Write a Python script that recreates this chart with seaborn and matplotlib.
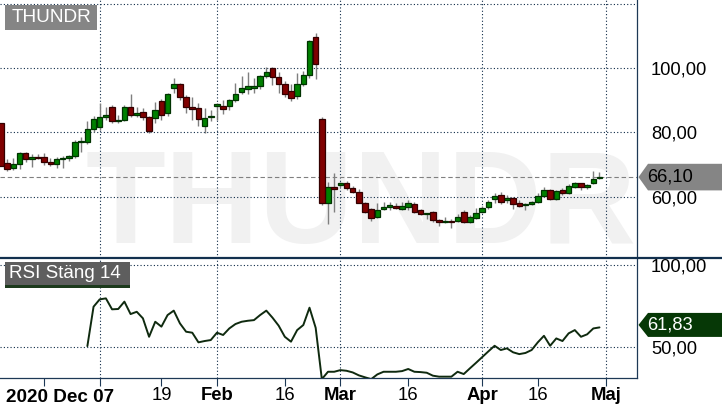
import numpy as np
import pandas as pd
import matplotlib
matplotlib.use("Agg")
import matplotlib.pyplot as plt
import seaborn as sns
from matplotlib.patches import Rectangle, Polygon
from matplotlib.transforms import IdentityTransform
from matplotlib.lines import Line2D

# ---------------- data ----------------
opens = [82.9, 70.6, 68.8, 70.2, 73.7, 71.6, 72.5, 72.3, 70.9, 70.1,
         71.8, 72.2, 72.8, 76.9, 76.9, 81.0, 81.8, 84.9, 87.9, 83.5,
         83.9, 88.0, 85.5, 86.3, 84.7, 84.4, 89.9, 86.0, 93.8, 95.1,
         91.0, 87.9, 87.5, 82.0, 84.7, 88.2, 88.2, 88.2, 90.1, 92.7,
         93.5, 93.8, 94.6, 97.6, 100.0, 97.4, 95.1, 93.0, 91.3, 95.0,
         97.8, 109.7, 84.1, 57.9, 62.9, 63.7, 64.2, 62.6, 61.6, 57.9,
         56.1, 53.6, 56.1, 56.9, 57.0, 56.2, 56.9, 57.6, 55.9, 54.5,
         55.2, 52.8, 52.2, 52.5, 52.3, 55.2, 52.0, 53.3, 55.1, 56.9,
         59.2, 60.5, 59.0, 59.5, 57.9, 57.3, 57.7, 58.5, 60.2, 62.1,
         59.2, 62.1, 61.1, 63.1, 64.2, 63.1, 64.4, 65.8]
highs = [83.0, 71.6, 72.0, 74.0, 73.9, 73.2, 73.2, 73.5, 71.9, 72.5,
         72.6, 73.0, 77.5, 78.5, 83.5, 85.0, 89.1, 88.0, 88.5, 85.5,
         88.5, 92.0, 88.0, 87.7, 85.0, 89.6, 90.5, 92.3, 96.9, 95.5,
         91.6, 91.0, 89.2, 87.5, 86.9, 89.3, 90.1, 90.5, 95.4, 97.6,
         98.9, 96.9, 97.8, 100.3, 100.3, 98.7, 96.0, 95.0, 98.6, 99.1,
         108.7, 110.9, 84.8, 64.7, 67.3, 64.6, 65.0, 63.3, 62.5, 58.3,
         56.5, 58.0, 58.4, 58.5, 58.0, 58.3, 59.1, 58.3, 56.2, 55.0,
         55.5, 53.2, 53.8, 53.0, 54.5, 56.0, 54.2, 56.4, 57.0, 59.0,
         61.0, 61.6, 60.5, 60.0, 58.9, 58.0, 58.8, 61.0, 62.9, 62.4,
         62.0, 62.6, 64.0, 64.5, 64.4, 63.8, 68.0, 67.8]
lows = [69.5, 68.1, 68.2, 68.6, 70.9, 69.3, 71.7, 69.9, 69.6, 68.9,
        69.0, 71.0, 72.0, 74.0, 76.5, 80.0, 80.8, 84.0, 82.8, 83.0,
        83.5, 84.9, 84.8, 83.8, 79.7, 83.0, 84.0, 85.0, 92.2, 90.0,
        86.1, 84.0, 82.0, 79.8, 83.6, 84.0, 85.6, 87.0, 89.5, 92.0,
        92.0, 92.2, 93.6, 97.0, 94.8, 92.2, 91.0, 89.9, 90.3, 94.5,
        97.0, 96.6, 57.4, 51.4, 55.1, 63.0, 62.0, 61.0, 58.0, 55.0,
        52.5, 53.3, 55.7, 56.0, 56.2, 55.8, 56.0, 55.0, 54.2, 53.0,
        52.0, 50.8, 51.8, 50.1, 52.0, 51.8, 51.8, 53.0, 54.8, 56.3,
        58.0, 57.6, 58.0, 56.3, 56.8, 56.0, 57.3, 58.0, 59.8, 58.9,
        58.9, 60.5, 60.8, 62.8, 62.0, 62.3, 64.0, 65.5]
closes = [69.6, 68.5, 70.2, 73.7, 71.6, 72.5, 72.0, 70.7, 70.1, 71.8,
          72.2, 72.7, 76.9, 77.2, 81.0, 84.1, 84.7, 85.3, 83.5, 83.8,
          87.9, 85.5, 86.0, 84.7, 80.6, 87.0, 85.5, 92.0, 95.1, 91.0,
          87.9, 87.4, 84.1, 84.4, 85.1, 88.9, 87.4, 90.1, 92.0, 93.8,
          94.4, 94.5, 97.6, 98.8, 97.4, 95.1, 91.9, 90.7, 95.2, 97.8,
          108.5, 101.2, 57.9, 63.1, 62.3, 64.2, 62.6, 61.6, 58.1, 55.3,
          53.3, 55.9, 56.7, 57.4, 56.4, 57.0, 57.9, 55.3, 54.5, 54.8,
          52.8, 52.2, 52.5, 52.0, 53.6, 52.1, 53.6, 55.0, 56.4, 58.3,
          60.2, 58.4, 59.5, 57.7, 57.2, 57.7, 58.3, 60.2, 62.1, 59.4,
          61.8, 61.1, 63.3, 64.2, 62.9, 63.6, 65.4, 66.1]

rsi_start = 14
rsi_values = [50.4, 74.5, 79.0, 79.6, 72.9, 73.1, 77.6, 70.0, 71.4, 67.4,
              56.1, 65.3, 62.3, 69.4, 72.1, 64.3, 59.2, 58.6, 52.7, 53.5,
              54.1, 58.6, 57.2, 61.2, 63.9, 65.3, 65.9, 66.3, 69.4, 72.1,
              67.8, 62.9, 56.1, 53.1, 60.2, 63.3, 73.9, 61.6, 30.2, 34.7,
              34.7, 35.7, 35.3, 34.3, 32.5, 31.3, 30.2, 33.1, 34.7, 34.7,
              34.7, 35.1, 36.4, 34.7, 34.5, 34.1, 32.3, 31.7, 31.7, 31.7,
              34.7, 33.3, 36.8, 40.2, 43.7, 47.2, 50.6, 48.0, 49.0, 46.6,
              45.5, 46.2, 48.0, 52.7, 56.7, 50.6, 55.1, 53.5, 58.2, 60.2,
              56.1, 57.6, 61.2, 61.83]

tick_positions = [7, 16, 26, 35, 46, 55, 66, 78, 87, 98]
tick_labels = ["", "", "19", "Feb", "16", "Mar", "16", "Apr", "16", "Maj"]
bold_labels = ["Feb", "Mar", "Apr", "Maj"]
first_label = "2020 Dec 07"
month_lines = [16, 35, 55, 78, 98]
price_ticks = [60, 80, 100, 120]
price_tick_labels = ["60,00", "80,00", "100,00", ""]
rsi_ticks = [50, 100]
rsi_tick_labels = ["50,00", "100,00"]
title_price = "THUNDR"
title_rsi = "RSI Stäng 14"
last_close_label = "66,10"
last_rsi_label = "61,83"

# ---------------- style ----------------
sns.set_style("white")
plt.rcParams["font.family"] = ["Liberation Sans", "DejaVu Sans"]

W, H = 722, 411
fig = plt.figure(figsize=(W / 100, H / 100), dpi=100)
fig.patch.set_facecolor("white")

NAVY = "#1d3856"
GRID = "#0e2a47"
x_left, x_right = -0.162, 103.08

ax1 = fig.add_axes([0, 1 - 257.7 / H, 637 / W, 257.7 / H])
ax2 = fig.add_axes([0, 1 - 378.3 / H, 637 / W, (378.3 - 258.0) / H])

df = pd.DataFrame({"open": opens, "high": highs, "low": lows, "close": closes})
df["idx"] = np.arange(len(df))
up = df["close"] >= df["open"]

# wicks
ax1.vlines(df["idx"], df["low"], df["high"], color="#7f7f7f", lw=1.0, zorder=2)
# bodies
bottom = np.minimum(df["open"], df["close"])
height = np.maximum(np.abs(df["close"] - df["open"]), 0.35)
ax1.bar(df["idx"][up], height[up], bottom=bottom[up], width=0.9,
        color="#008000", edgecolor="#003300", linewidth=0.9, zorder=3)
ax1.bar(df["idx"][~up], height[~up], bottom=bottom[~up], width=0.9,
        color="#800000", edgecolor="#330000", linewidth=0.9, zorder=3)

ax1.set_xlim(x_left, x_right)
ax1.set_ylim(41.0, 121.25)

# RSI
rsi_df = pd.DataFrame({"idx": np.arange(rsi_start, rsi_start + len(rsi_values)),
                       "rsi": rsi_values})
sns.lineplot(data=rsi_df, x="idx", y="rsi", ax=ax2, color="#0f2a0f", lw=1.4,
             zorder=3)
ax2.set_xlim(x_left, x_right)
ax2.set_ylim(30.7, 104.3)
ax2.set_xlabel("")
ax2.set_ylabel("")

dotted = (0, (1, 2))
for ax, yt in ((ax1, price_ticks), (ax2, rsi_ticks)):
    for v in yt:
        ax.axhline(v, color=GRID, lw=0.8, ls=dotted, zorder=1)
    for m in month_lines:
        ax.axvline(m, color=GRID, lw=0.8, ls=dotted, zorder=1)

# last close dashed line
ax1.axhline(closes[-1], color="#808080", lw=0.8, ls=(0, (4, 2.5)), zorder=2)

# spines
for ax in (ax1, ax2):
    for s in ("left", "top"):
        ax.spines[s].set_visible(False)
    ax.spines["right"].set_color(NAVY)
    ax.spines["right"].set_linewidth(0.9)
    ax.yaxis.tick_right()
    ax.tick_params(axis="y", length=0, pad=10, labelsize=13.2, labelcolor="black")
ax1.spines["bottom"].set_visible(False)
ax2.spines["bottom"].set_color(NAVY)
ax2.spines["bottom"].set_linewidth(0.9)

ax1.set_yticks(price_ticks)
ax1.set_yticklabels(price_tick_labels)
ax2.set_yticks(rsi_ticks)
ax2.set_yticklabels(rsi_tick_labels)
ax1.set_xticks([])

ax2.set_xticks(tick_positions)
ax2.set_xticklabels(tick_labels)
ax2.tick_params(axis="x", length=5.5, width=0.8, color=NAVY, pad=1,
                labelsize=13.3, labelcolor="black", direction="out", bottom=True)
for lab in ax2.get_xticklabels():
    if lab.get_text() in bold_labels:
        lab.set_fontweight("bold")

ID = IdentityTransform()

# first date label
fig.text(6, H - 401.7, first_label, transform=ID, ha="left", va="baseline",
         fontsize=13.6, fontweight="bold", color="black")

# watermark
ax1.text(361, H - 243, title_price, transform=ID, ha="center", va="baseline",
         fontsize=94, fontweight="bold", color="#f1f1f1", zorder=0, clip_on=True)

# separator
fig.add_artist(Line2D([0, W], [H - 258, H - 258], transform=ID, color="#12304e",
                      lw=1.6, zorder=10))

# title boxes
fig.add_artist(Rectangle((5, H - 30), 92, 25, transform=ID, facecolor="#858585",
                         edgecolor="none", zorder=5))
fig.text(51, H - 17.5, title_price, transform=ID, ha="center", va="center",
         fontsize=13.7, color="white", zorder=6)
fig.add_artist(Rectangle((5, H - 285.5), 125, 24, transform=ID,
                         facecolor="#5e5e5e", edgecolor="none", zorder=5))
fig.add_artist(Rectangle((5, H - 287.5), 125, 2.2, transform=ID,
                         facecolor="#1c3a1c", edgecolor="none", zorder=5))
fig.text(65, H - 273.5, title_rsi, transform=ID, ha="center", va="center",
         fontsize=13.5, color="white", zorder=6)


def tag(ax, value, label, face, txtcolor, half, shift):
    yc = ax.transData.transform((0, value))[1] + shift
    pts = [(638.5, yc), (648, yc + half), (W, yc + half), (W, yc - half),
           (648, yc - half)]
    fig.add_artist(Polygon(pts, closed=True, transform=ID, facecolor=face,
                           edgecolor="none", zorder=7))
    fig.text(647.5, yc, label, transform=ID, ha="left", va="center",
             fontsize=13.2, color=txtcolor, zorder=8)


tag(ax1, closes[-1], last_close_label, "#858585", "black", 13.3, 0)
tag(ax2, rsi_values[-1], last_rsi_label, "#063806", "white", 12.0, 2.5)

fig.savefig("out.png", dpi=100, facecolor="white")
